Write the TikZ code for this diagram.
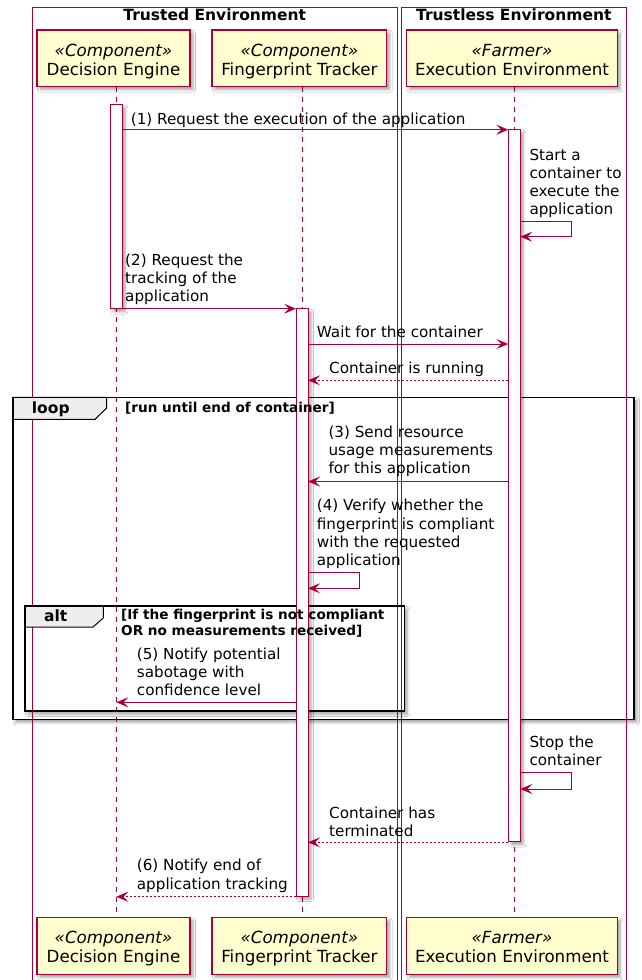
\documentclass[tikz,border=0pt]{standalone}
\usepackage{fontspec}
\setmainfont{DejaVu Sans}
\usetikzlibrary{arrows.meta,shadows.blur}
\definecolor{pborder}{HTML}{A80036}
\definecolor{pfill}{HTML}{FEFECE}
\definecolor{tabfill}{HTML}{EEEEEE}
\newcommand\ptfont{\fontsize{16.7}{19}\selectfont}
\newcommand\msgfont{\fontsize{15.2}{18.3}\selectfont}
\newcommand\envtitlefont{\fontsize{15.5}{18}\selectfont\bfseries}
\newcommand\condfont{\fontsize{13.6}{15.7}\selectfont\bfseries}
\newcommand\lns[1]{\begin{tabular}[t]{@{}l@{}}#1\end{tabular}}
\newcommand\ptxt[2]{\begin{tabular}[t]{@{}c@{}}\textit{«#1»}\\#2\end{tabular}}
\tikzset{
  shad/.style={blur shadow={shadow xshift=3pt,shadow yshift=-3pt,shadow blur radius=2.5pt,shadow opacity=35}},
  envbox/.style={draw=pborder,line width=1pt},
  envtitle/.style={font=\envtitlefont,inner sep=0,anchor=base},
  participant/.style={draw=pborder,fill=pfill,line width=1.4pt,shad,inner sep=0,
     minimum height=56.7pt,text height=12pt,text depth=16.7pt,font=\ptfont},
  lifeline/.style={draw=pborder,line width=1pt,dash pattern=on 5pt off 5pt},
  actbar/.style={draw=pborder,fill=white,line width=1pt,shad},
  msg/.style={draw=pborder,line width=1pt,-{Stealth[length=12pt,width=10pt,inset=5pt]}},
  reply/.style={msg,dash pattern=on 2pt off 2pt},
  msglabel/.style={font=\msgfont,inner sep=0,anchor=base west},
  framefill/.style={fill=white,shad},
  frameline/.style={draw=black,line width=1.6pt},
  frametab/.style={draw=black,fill=tabfill,line width=1pt},
  framekw/.style={font=\envtitlefont,inner sep=0,anchor=base west},
  cond/.style={font=\condfont,inner sep=0,anchor=base west},
}
\begin{document}
\begin{tikzpicture}[x=1pt,y=-1pt]
\useasboundingbox (0,0) rectangle (641,980);
\fill[white] (0,0) rectangle (641,980);

% frame backgrounds with shadows
\path[framefill] (12.7,397.3) rectangle (634,719.3);
\path[framefill] (25,606) rectangle (404.3,711);

% environment boxes
\draw[envbox] (32.5,7) rectangle (397,982);
\draw[envbox] (401.7,7) rectangle (626,982);
\node[envtitle] (tenv) at (214.75,20.7) {Trusted Environment};
\node[envtitle] (uenv) at (513.8,20.7) {Trustless Environment};

% lifelines
\coordinate (deT) at (116.3,86.7); \coordinate (deB) at (116.3,918);
\coordinate (ftT) at (302,86.7);   \coordinate (ftB) at (302,918);
\coordinate (eeT) at (514.3,86.7); \coordinate (eeB) at (514.3,918);
\draw[lifeline] (deT) -- (deB);
\draw[lifeline] (ftT) -- (ftB);
\draw[lifeline] (eeT) -- (eeB);

% loop frame
\draw[frameline] (12.7,397.3) rectangle (634,719.3);
\draw[frametab] (12.7,397.3) -- (106.7,397.3) -- (106.7,408) -- (95,419.3) -- (12.7,419.3) -- cycle;
\draw[frameline] (12.7,397.3) rectangle (634,719.3);

% alt frame
\draw[frameline] (25,606) rectangle (404.3,711);
\draw[frametab] (25,606) -- (103.3,606) -- (103.3,618) -- (93,627) -- (25,627) -- cycle;
\draw[frameline] (25,606) rectangle (404.3,711);

% activation bars
\draw[actbar] (110.3,104.7) rectangle (122.3,308.7);
\draw[actbar] (508.3,129.7) rectangle (520.3,841.7);
\draw[actbar] (296,308.7) rectangle (308,896);

% frame texts
\node[framekw] (loopkw) at (31.7,413.3) {loop};
\node[cond] (loopcond) at (125,412.7) {[run until end of container]};
\node[framekw] (altkw) at (44,621.7) {alt};
\node[cond] (altcond) at (121,619.3) {\lns{[If the fingerprint is not compliant\\OR no measurements received]}};

% messages
\coordinate (m1s) at (122.3,129.7); \coordinate (m1e) at (508.3,129.7);
\draw[msg] (m1s) -- (m1e);
\node[msglabel] (l1) at (130.7,124.3) {(1) Request the execution of the application};

\coordinate (s1a) at (520.3,221); \coordinate (s1b) at (520.3,236.7);
\draw[msg] (s1a) -- ++(51.4,0) |- (s1b);
\node[msglabel] (ls1) at (529.3,160) {\lns{Start a\\container to\\execute the\\application}};

\coordinate (m2s) at (122.3,308.7); \coordinate (m2e) at (296,308.7);
\draw[msg] (m2s) -- (m2e);
\node[msglabel] (l2) at (125,265) {\lns{(2) Request the\\tracking of the\\application}};

\coordinate (m3s) at (308,344); \coordinate (m3e) at (508.3,344);
\draw[msg] (m3s) -- (m3e);
\node[msglabel] (l3) at (316.7,337.7) {Wait for the container};

\coordinate (m4s) at (508.3,380.3); \coordinate (m4e) at (308,380.3);
\draw[reply] (m4s) -- (m4e);
\node[msglabel] (l4) at (329,373) {Container is running};

\coordinate (m5s) at (508.3,481.5); \coordinate (m5e) at (308,481.5);
\draw[msg] (m5s) -- (m5e);
\node[msglabel] (l5) at (328.3,437.3) {\lns{(3) Send resource\\usage measurements\\for this application}};

\coordinate (s2a) at (308,572.7); \coordinate (s2b) at (308,588.3);
\draw[msg] (s2a) -- ++(51,0) |- (s2b);
\node[msglabel] (ls2) at (316.7,510.7) {\lns{(4) Verify whether the\\fingerprint is compliant\\with the requested\\application}};

\coordinate (m6s) at (296,702.3); \coordinate (m6e) at (116.3,702.3);
\draw[msg] (m6s) -- (m6e);
\node[msglabel] (l6) at (136.7,659.3) {\lns{(5) Notify potential\\sabotage with\\confidence level}};

\coordinate (s3a) at (520.3,772.7); \coordinate (s3b) at (520.3,789);
\draw[msg] (s3a) -- ++(51.4,0) |- (s3b);
\node[msglabel] (ls3) at (529.3,747.3) {\lns{Stop the\\container}};

\coordinate (m7s) at (508.3,842.3); \coordinate (m7e) at (308,842.3);
\draw[reply] (m7s) -- (m7e);
\node[msglabel] (l7) at (329,818.3) {\lns{Container has\\terminated}};

\coordinate (m8s) at (296,896.7); \coordinate (m8e) at (116.3,896.7);
\draw[reply] (m8s) -- (m8e);
\node[msglabel] (l8) at (136.7,870.7) {\lns{(6) Notify end of\\application tracking}};

% participants
\node[participant,minimum width=153pt] (de) at (113.5,58.35) {\ptxt{Component}{Decision Engine}};
\node[participant,minimum width=174.7pt] (ft) at (299.35,58.35) {\ptxt{Component}{Fingerprint Tracker}};
\node[participant,minimum width=210.6pt] (ee) at (512,58.35) {\ptxt{Farmer}{Execution Environment}};
\node[participant,minimum width=153pt] (deb) at (113.5,946) {\ptxt{Component}{Decision Engine}};
\node[participant,minimum width=174.7pt] (ftb) at (299.35,946) {\ptxt{Component}{Fingerprint Tracker}};
\node[participant,minimum width=210.6pt] (eeb) at (512,946) {\ptxt{Farmer}{Execution Environment}};
\end{tikzpicture}
\end{document}
